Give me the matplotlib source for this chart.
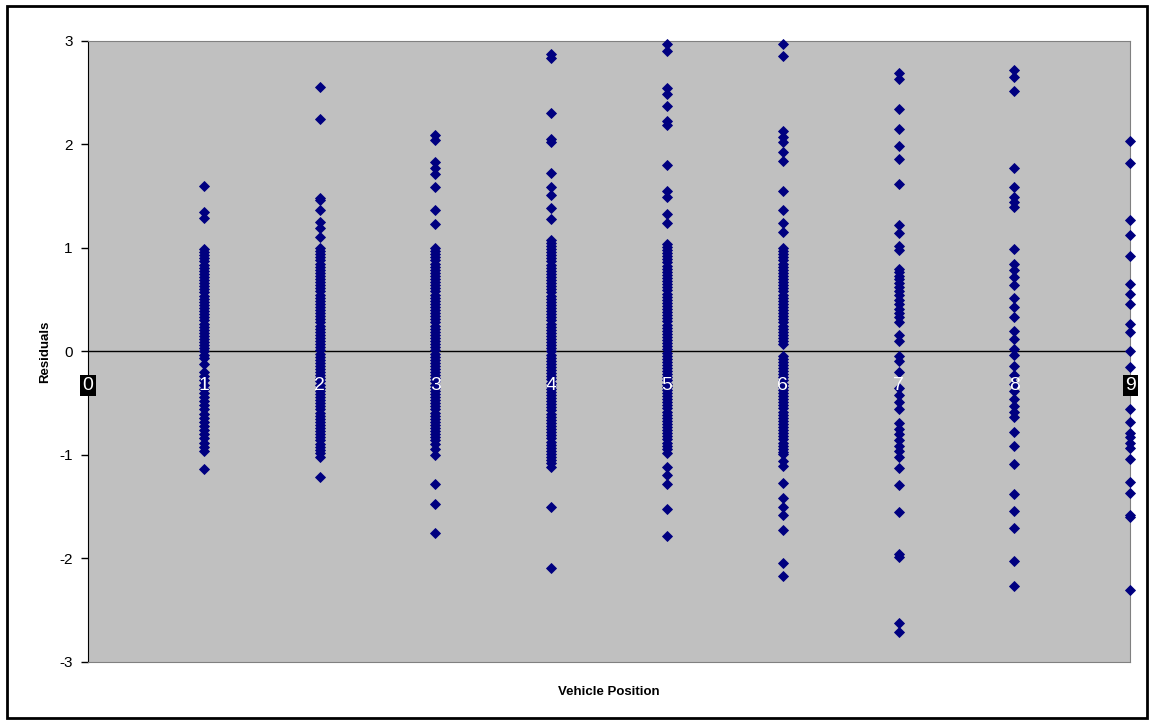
import matplotlib.pyplot as plt
from matplotlib.patches import Rectangle

positions = [1, 2, 3, 4, 5, 6, 7, 8, 9]
x_ticks = [0, 1, 2, 3, 4, 5, 6, 7, 8, 9]
y_ticks = [-3, -2, -1, 0, 1, 2, 3]

res_1 = [1.60, 1.35, 1.29, 0.99, 0.96, 0.93, 0.90, 0.87, 0.84, 0.81, 0.78, 0.75, 0.72, 0.69,
         0.66, 0.63, 0.60, 0.57, 0.54, 0.51, 0.48, 0.45, 0.42, 0.39, 0.36, 0.33, 0.30, 0.27,
         0.24, 0.21, 0.18, 0.15, 0.12, 0.09, 0.06, 0.03, 0.00, -0.03, -0.06, -0.12, -0.20,
         -0.24, -0.28, -0.32, -0.36, -0.40, -0.44, -0.48, -0.52, -0.56, -0.60, -0.64, -0.68,
         -0.72, -0.76, -0.80, -0.84, -0.88, -0.92, -0.96, -1.14]
res_2 = [2.56, 2.25, 1.48, 1.46, 1.37, 1.25, 1.19, 1.11, 1.00, 0.97, 0.94, 0.91, 0.88, 0.85,
         0.82, 0.79, 0.76, 0.73, 0.70, 0.67, 0.64, 0.61, 0.58, 0.55, 0.52, 0.49, 0.46, 0.43,
         0.40, 0.37, 0.34, 0.31, 0.28, 0.25, 0.22, 0.19, 0.16, 0.13, 0.10, 0.07, 0.04, 0.01,
         -0.02, -0.05, -0.08, -0.11, -0.14, -0.17, -0.20, -0.23, -0.26, -0.29, -0.32, -0.35,
         -0.38, -0.41, -0.44, -0.47, -0.50, -0.53, -0.56, -0.59, -0.62, -0.65, -0.68, -0.71,
         -0.74, -0.77, -0.80, -0.83, -0.86, -0.89, -0.92, -0.95, -0.98, -1.02, -1.21]
res_3 = [2.09, 2.04, 1.83, 1.77, 1.71, 1.59, 1.37, 1.23, 1.00, 0.97, 0.94, 0.91, 0.88, 0.85,
         0.82, 0.79, 0.76, 0.73, 0.70, 0.67, 0.64, 0.61, 0.58, 0.55, 0.52, 0.49, 0.46, 0.43,
         0.40, 0.37, 0.34, 0.31, 0.28, 0.25, 0.22, 0.19, 0.16, 0.13, 0.10, 0.07, 0.04, 0.01,
         -0.02, -0.05, -0.08, -0.11, -0.14, -0.17, -0.20, -0.23, -0.26, -0.29, -0.32, -0.35,
         -0.38, -0.41, -0.44, -0.47, -0.50, -0.53, -0.56, -0.59, -0.62, -0.65, -0.68, -0.71,
         -0.74, -0.77, -0.80, -0.83, -0.86, -0.89, -0.94, -1.00, -1.28, -1.47, -1.75]
res_4 = [2.87, 2.84, 2.30, 2.05, 2.02, 1.72, 1.59, 1.51, 1.39, 1.28, 1.08, 1.05, 1.02, 0.99,
         0.96, 0.93, 0.90, 0.87, 0.84, 0.81, 0.78, 0.75, 0.72, 0.69, 0.66, 0.63, 0.60, 0.57,
         0.54, 0.51, 0.48, 0.45, 0.42, 0.39, 0.36, 0.33, 0.30, 0.27, 0.24, 0.21, 0.18, 0.15,
         0.12, 0.09, 0.06, 0.03, 0.00, -0.03, -0.06, -0.09, -0.12, -0.15, -0.18, -0.21, -0.24,
         -0.27, -0.30, -0.33, -0.36, -0.39, -0.42, -0.45, -0.48, -0.51, -0.54, -0.57, -0.60,
         -0.63, -0.66, -0.69, -0.72, -0.75, -0.78, -0.81, -0.84, -0.87, -0.90, -0.93, -0.96,
         -0.99, -1.02, -1.05, -1.08, -1.12, -1.50, -2.09]
res_5 = [2.97, 2.90, 2.55, 2.49, 2.37, 2.23, 2.19, 1.80, 1.55, 1.49, 1.33, 1.24, 1.04, 1.01,
         0.98, 0.95, 0.92, 0.89, 0.86, 0.83, 0.80, 0.77, 0.74, 0.71, 0.68, 0.65, 0.62, 0.59,
         0.56, 0.53, 0.50, 0.47, 0.44, 0.41, 0.38, 0.35, 0.32, 0.29, 0.26, 0.23, 0.20, 0.17,
         0.14, 0.11, 0.08, 0.05, 0.02, -0.01, -0.04, -0.07, -0.10, -0.13, -0.16, -0.19, -0.22,
         -0.25, -0.28, -0.31, -0.34, -0.37, -0.40, -0.43, -0.46, -0.49, -0.52, -0.55, -0.58,
         -0.61, -0.64, -0.67, -0.70, -0.73, -0.76, -0.79, -0.82, -0.85, -0.88, -0.91, -0.94,
         -0.98, -1.12, -1.19, -1.28, -1.52, -1.78]
res_6 = [2.97, 2.85, 2.13, 2.07, 2.02, 1.93, 1.84, 1.55, 1.37, 1.24, 1.15, 1.00, 0.97, 0.94,
         0.91, 0.88, 0.85, 0.82, 0.79, 0.76, 0.73, 0.70, 0.67, 0.64, 0.61, 0.58, 0.55, 0.52,
         0.49, 0.46, 0.43, 0.40, 0.37, 0.34, 0.31, 0.28, 0.25, 0.22, 0.19, 0.16, 0.13, 0.10,
         0.07, -0.04, -0.07, -0.10, -0.13, -0.16, -0.19, -0.22, -0.25, -0.28, -0.31, -0.34,
         -0.37, -0.40, -0.43, -0.46, -0.49, -0.52, -0.55, -0.58, -0.61, -0.64, -0.67, -0.70,
         -0.73, -0.76, -0.79, -0.82, -0.85, -0.88, -0.91, -0.94, -0.97, -0.99, -1.06, -1.11,
         -1.27, -1.42, -1.50, -1.58, -1.72, -2.04, -2.17]
res_7 = [2.69, 2.63, 2.34, 2.15, 1.99, 1.86, 1.62, 1.22, 1.14, 1.02, 0.98, 0.80, 0.77, 0.73,
         0.70, 0.66, 0.62, 0.58, 0.55, 0.50, 0.46, 0.41, 0.37, 0.33, 0.28, 0.16, 0.10, -0.04,
         -0.09, -0.20, -0.35, -0.42, -0.49, -0.56, -0.69, -0.75, -0.80, -0.86, -0.91, -0.96,
         -1.02, -1.13, -1.29, -1.55, -1.96, -1.99, -2.62, -2.71]
res_8 = [2.72, 2.65, 2.52, 1.77, 1.59, 1.49, 1.44, 1.40, 0.99, 0.85, 0.79, 0.72, 0.64, 0.52,
         0.43, 0.33, 0.20, 0.12, 0.02, -0.03, -0.14, -0.23, -0.31, -0.38, -0.46, -0.53, -0.58,
         -0.63, -0.78, -0.91, -1.09, -1.38, -1.54, -1.71, -2.02, -2.27]
res_9 = [2.03, 1.82, 1.27, 1.13, 0.92, 0.65, 0.56, 0.46, 0.27, 0.19, 0.00, -0.15, -0.34,
         -0.56, -0.68, -0.79, -0.83, -0.88, -0.93, -1.04, -1.26, -1.37, -1.58, -1.60, -2.30]
residuals = [res_1, res_2, res_3, res_4, res_5, res_6, res_7, res_8, res_9]

fig = plt.figure(figsize=(11.54, 7.25), dpi=100)
fig.patches.append(Rectangle((0.006, 0.009), 0.988, 0.983, transform=fig.transFigure,
                             fill=False, edgecolor='black', linewidth=2))

ax = fig.add_axes([0.0763, 0.0869, 0.903, 0.8566])
ax.set_facecolor('#C0C0C0')

for pos, vals in zip(positions, residuals):
    ax.plot([pos] * len(vals), vals, linestyle='none', marker='D', markersize=5.6,
            markeredgewidth=0.6, color='#000080', clip_on=False, zorder=3)

ax.axhline(0, color='black', linewidth=1, zorder=2)

ax.set_xlim(0, 9)
ax.set_ylim(-3, 3)
ax.set_yticks(y_ticks)
ax.set_yticklabels([str(v) for v in y_ticks], fontsize=11, family='Liberation Sans')
ax.set_xticks([])
ax.tick_params(axis='y', direction='out', length=5, width=1, pad=6)

for side in ['top', 'right', 'bottom']:
    ax.spines[side].set_color('#808080')
ax.spines['left'].set_color('black')

# x tick labels sit inside the plot just under the zero line, white text
for xv in x_ticks:
    box = None
    if xv == x_ticks[0] or xv == x_ticks[-1]:
        box = dict(facecolor='black', edgecolor='none', pad=1.5)
    ax.text(xv, -0.33, str(xv), color='white', fontsize=14, ha='center', va='center',
            family='Liberation Sans', bbox=box, zorder=4, clip_on=False)

ax.set_ylabel('Residuals', fontsize=9.5, fontweight='bold', family='Liberation Sans', labelpad=6)
ax.set_xlabel('Vehicle Position', fontsize=9.5, fontweight='bold', family='Liberation Sans',
              labelpad=17)

fig.savefig('out.png', dpi=100)
